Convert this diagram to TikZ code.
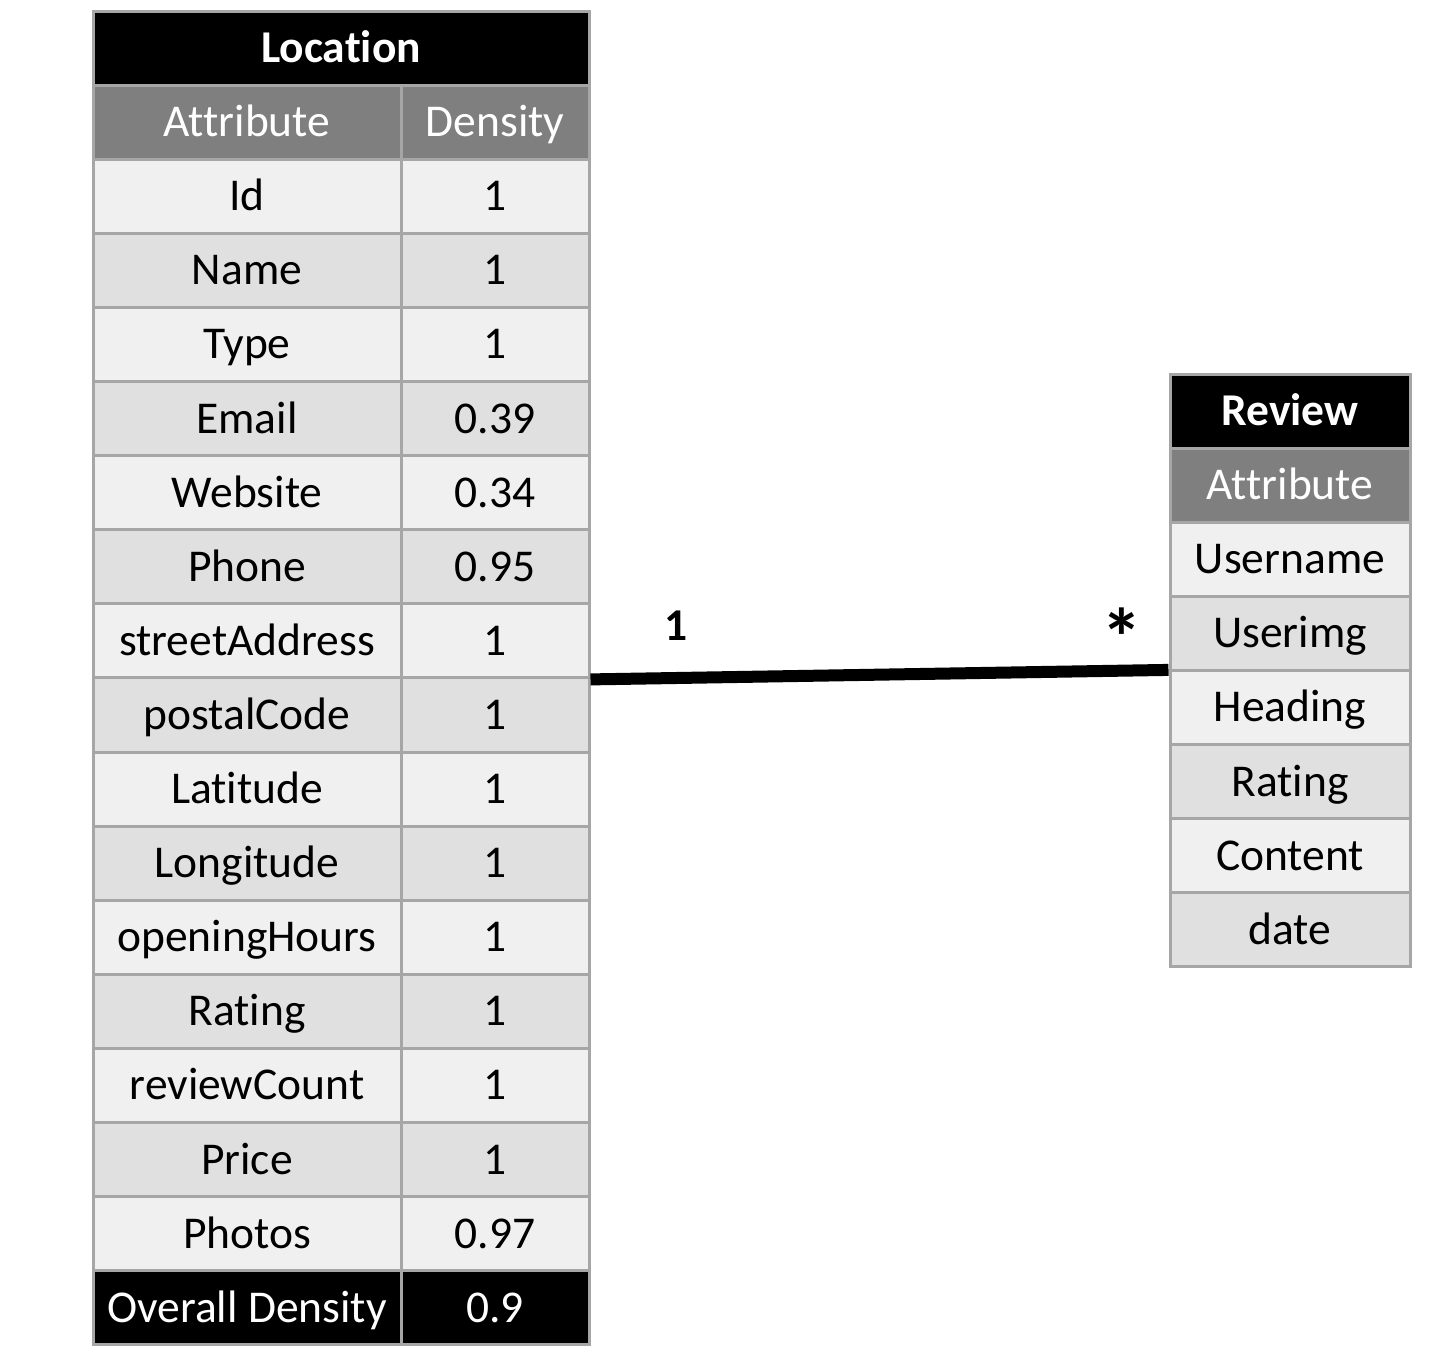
\documentclass[tikz,border=0pt]{standalone}
\usepackage{fontspec}
\setmainfont{Carlito}[Ligatures={NoCommon,NoRare,NoContextual}]
\definecolor{bordergray}{HTML}{A6A6A6}
\definecolor{headgray}{HTML}{7F7F7F}
\definecolor{rowlight}{HTML}{F0F0F0}
\definecolor{rowdark}{HTML}{E0E0E0}
\begin{document}
\begin{tikzpicture}[x=1pt,y=-1pt,
  cell/.style={draw=bordergray,line width=3pt,inner sep=0pt,minimum height=74.1pt,
    text height=29pt,text depth=0pt,font=\fontsize{45.5}{50}\selectfont},
  titlecell/.style={cell,fill=black,text=white,font=\fontsize{45.5}{50}\selectfont\bfseries},
  headcell/.style={cell,fill=headgray,text=white},
  lightcell/.style={cell,fill=rowlight},
  darkcell/.style={cell,fill=rowdark},
  totalcell/.style={cell,fill=black,text=white},
  colA/.style={minimum width=308pt},
  colD/.style={minimum width=188pt},
  colR/.style={minimum width=240pt},
  mult/.style={font=\fontsize{45.5}{50}\selectfont\bfseries,inner sep=0pt,anchor=base}]
\useasboundingbox (0,0) rectangle (1430,1361);
% ---- Location table ----
\node[titlecell,minimum width=496pt] (loc-title) at (341,48.05) {Location};
\node[headcell,colA] (loc-hA) at (247,122.15) {Attribute};
\node[headcell,colD] (loc-hD) at (495,122.15) {Density};
\foreach \a/\d [count=\i] in {Id/1,Name/1,Type/1,Email/0.39,Website/0.34,Phone/0.95,
  streetAddress/1,postalCode/1,Latitude/1,Longitude/1,openingHours/1,Rating/1,
  reviewCount/1,Price/1,Photos/0.97}{
  \pgfmathsetmacro\cy{11+74.1*(\i+1)+37.05}
  \ifodd\i
    \node[lightcell,colA] (loc-a\i) at (247,\cy) {\a};
    \node[lightcell,colD] (loc-d\i) at (495,\cy) {\d};
  \else
    \node[darkcell,colA] (loc-a\i) at (247,\cy) {\a};
    \node[darkcell,colD] (loc-d\i) at (495,\cy) {\d};
  \fi
}
\node[totalcell,colA] (loc-tA) at (247,1307.85) {Overall Density};
\node[totalcell,colD] (loc-tD) at (495,1307.85) {0.9};
% ---- Review table ----
\node[titlecell,colR] (rev-title) at (1290,411.05) {Review};
\node[headcell,colR] (rev-h) at (1290,485.15) {Attribute};
\foreach \a [count=\i] in {Username,Userimg,Heading,Rating,Content,date}{
  \pgfmathsetmacro\cy{374+74.1*(\i+1)+37.05}
  \ifodd\i
    \node[lightcell,colR] (rev-a\i) at (1290,\cy) {\a};
  \else
    \node[darkcell,colR] (rev-a\i) at (1290,\cy) {\a};
  \fi
}
% ---- Association ----
\draw[line width=12pt] (loc-d7.south east) -- ([yshift=2pt]rev-a2.south west);
\node[mult] (m-one) at (676,640) {1};
\node[mult,font=\fontsize{82}{90}\selectfont\bfseries] (m-many) at (1122,666) {*};
\end{tikzpicture}
\end{document}
